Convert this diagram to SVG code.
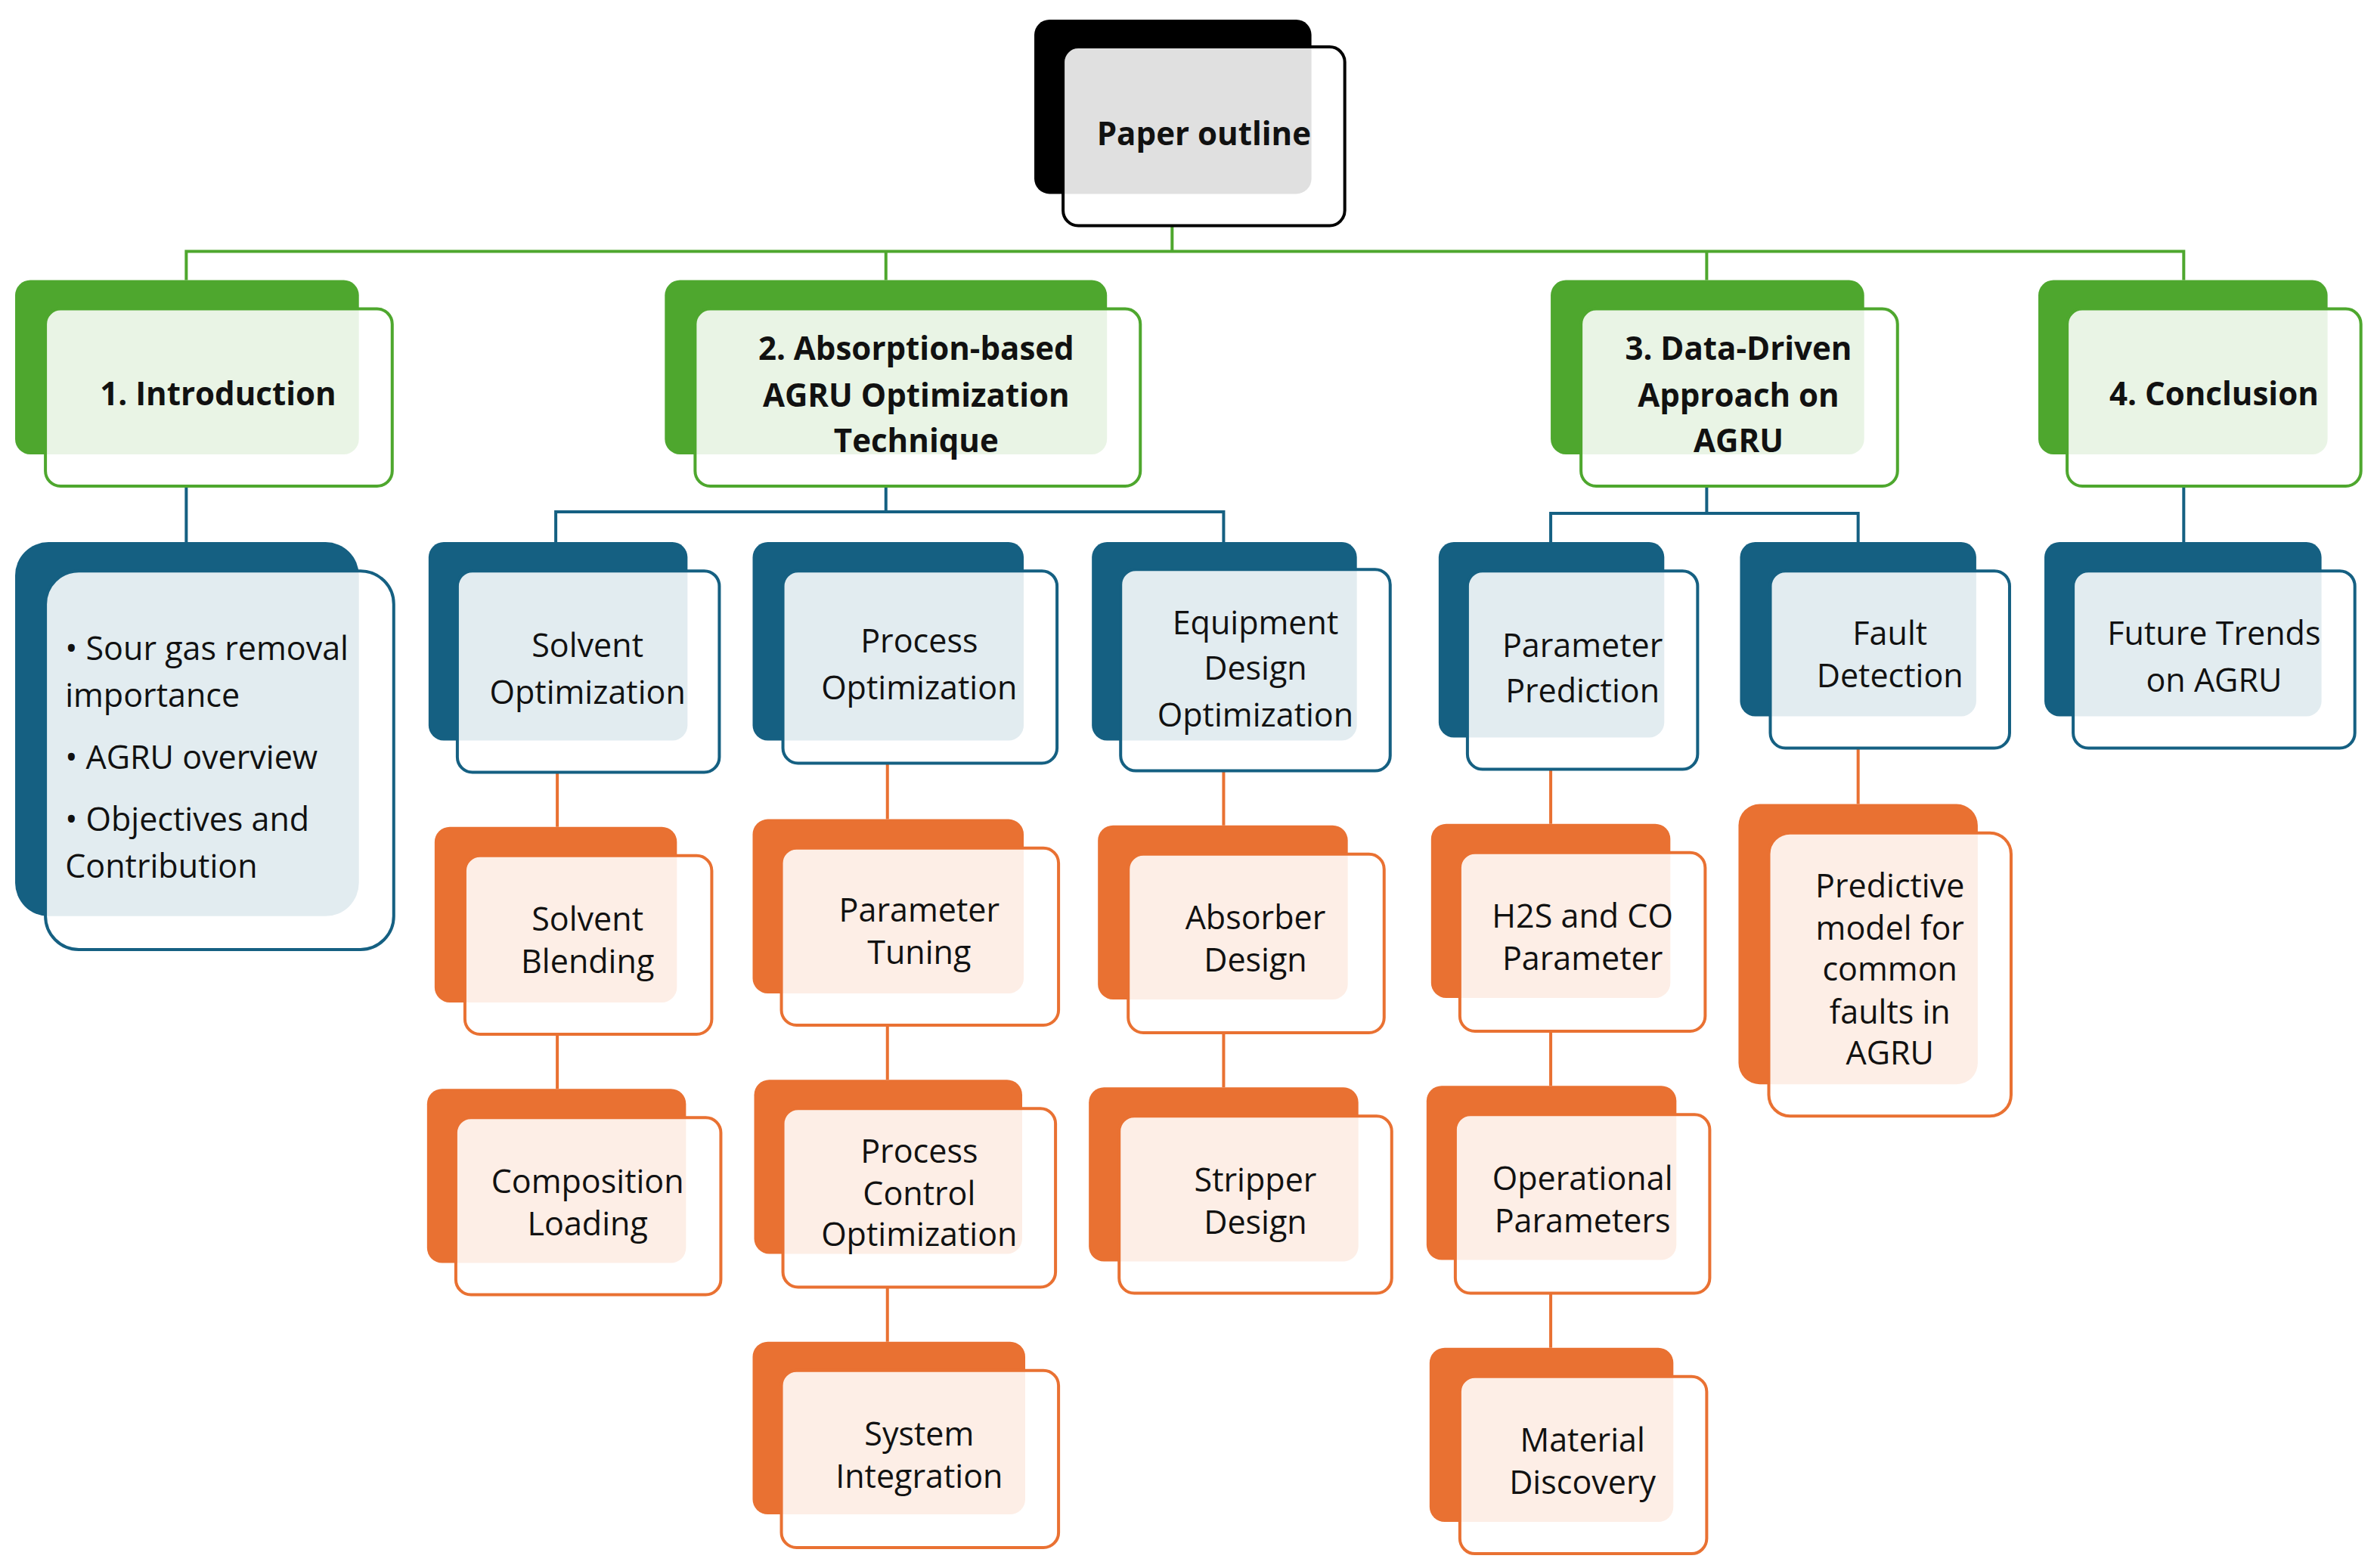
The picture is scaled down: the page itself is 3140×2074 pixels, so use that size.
<svg xmlns="http://www.w3.org/2000/svg" width="3140" height="2074" viewBox="0 0 3140 2074">
<style>
.bk{fill:#000}.bg{fill:#4ea72e}.bb{fill:#156082}.bo{fill:#e97132}
.f{fill:#fff;fill-opacity:0.88;stroke-width:2}
.fk{stroke:#000}.fg{stroke:#4ea72e}.fb{stroke:#156082}.fo{stroke:#e97132}
text{font-family:"Open Sans","Liberation Sans",sans-serif;font-size:21.5px;fill:#111;text-anchor:middle;dominant-baseline:middle}
.h{font-weight:bold;font-size:21px}
.l{text-anchor:start}
.cg{stroke:#4ea72e;stroke-width:2;fill:none}.cb{stroke:#156082;stroke-width:2;fill:none}.co{stroke:#e97132;stroke-width:2;fill:none}
</style>
<rect width="3140" height="2074" fill="#fff"/>
<g transform="scale(2.003)">
<g id="connectors">
<path class="cg" d="M774 149V166M123 185V166H1442V185M585 166V185M1127 166V185"/>
<path class="cb" d="M123 321V358M585 321V338M367 358V338H808V358M1127 321V339M1024 358V339H1227V358M1442 321V358"/>
<path class="co" d="M368 510V546M368 683V719M586 504V541M586 677V713M586 850V886M808 509V545M808 682V718M1024 508V544M1024 681V717M1024 854V890M1227 494V531"/>
</g>
<g id="paper"><rect class="bk" x="683" y="13" width="183" height="115" rx="10"/><rect class="f fk" x="702" y="31" width="186" height="118" rx="10"/><text class="h" x="795" y="90">Paper outline</text></g>
<g id="intro"><rect class="bg" x="10" y="185" width="227" height="115" rx="10"/><rect class="f fg" x="30" y="204" width="229" height="117" rx="10"/><text class="h" x="144" y="262">1. Introduction</text></g>
<g id="sec2"><rect class="bg" x="439" y="185" width="292" height="115" rx="10"/><rect class="f fg" x="459" y="204" width="294" height="117" rx="10"/><text class="h" x="605" y="232">2. Absorption-based</text><text class="h" x="605" y="263">AGRU Optimization</text><text class="h" x="605" y="293">Technique</text></g>
<g id="sec3"><rect class="bg" x="1024" y="185" width="207" height="115" rx="10"/><rect class="f fg" x="1044" y="204" width="209" height="117" rx="10"/><text class="h" x="1148" y="232">3. Data-Driven</text><text class="h" x="1148" y="263">Approach on</text><text class="h" x="1148" y="293">AGRU</text></g>
<g id="concl"><rect class="bg" x="1346" y="185" width="191" height="115" rx="10"/><rect class="f fg" x="1365" y="204" width="194" height="117" rx="10"/><text class="h" x="1462" y="262">4. Conclusion</text></g>
<g id="bullets"><rect class="bb" x="10" y="358" width="227" height="247" rx="22"/><rect class="f fb" x="30" y="377" width="230" height="250" rx="22"/>
<text class="l" x="43" y="430">• Sour gas removal</text><text class="l" x="43" y="461">importance</text><text class="l" x="43" y="502">• AGRU overview</text><text class="l" x="43" y="543">• Objectives and</text><text class="l" x="43" y="574">Contribution</text></g>
<g id="solvopt"><rect class="bb" x="283" y="358" width="171" height="131" rx="10"/><rect class="f fb" x="302" y="377" width="173" height="133" rx="10"/><text x="388" y="428">Solvent</text><text x="388" y="459">Optimization</text></g>
<g id="procopt"><rect class="bb" x="497" y="358" width="179" height="131" rx="10"/><rect class="f fb" x="517" y="377" width="181" height="127" rx="10"/><text x="607" y="425">Process</text><text x="607" y="456">Optimization</text></g>
<g id="equip"><rect class="bb" x="721" y="358" width="175" height="131" rx="10"/><rect class="f fb" x="740" y="376" width="178" height="133" rx="10"/><text x="829" y="413">Equipment</text><text x="829" y="443">Design</text><text x="829" y="474">Optimization</text></g>
<g id="parpred"><rect class="bb" x="950" y="358" width="149" height="129" rx="10"/><rect class="f fb" x="969" y="377" width="152" height="131" rx="10"/><text x="1045" y="428">Parameter</text><text x="1045" y="458">Prediction</text></g>
<g id="fault"><rect class="bb" x="1149" y="358" width="156" height="115" rx="10"/><rect class="f fb" x="1169" y="377" width="158" height="117" rx="10"/><text x="1248" y="420">Fault</text><text x="1248" y="448">Detection</text></g>
<g id="future"><rect class="bb" x="1350" y="358" width="183" height="115" rx="10"/><rect class="f fb" x="1369" y="377" width="186" height="117" rx="10"/><text x="1462" y="420">Future Trends</text><text x="1462" y="451">on AGRU</text></g>
<g id="blend"><rect class="bo" x="287" y="546" width="160" height="116" rx="10"/><rect class="f fo" x="307" y="565" width="163" height="118" rx="10"/><text x="388" y="609">Solvent</text><text x="388" y="637">Blending</text></g>
<g id="comp"><rect class="bo" x="282" y="719" width="171" height="115" rx="10"/><rect class="f fo" x="301" y="738" width="175" height="117" rx="10"/><text x="388" y="782">Composition</text><text x="388" y="810">Loading</text></g>
<g id="tuning"><rect class="bo" x="497" y="541" width="179" height="115" rx="10"/><rect class="f fo" x="516" y="560" width="183" height="117" rx="10"/><text x="607" y="603">Parameter</text><text x="607" y="631">Tuning</text></g>
<g id="pco"><rect class="bo" x="498" y="713" width="177" height="115" rx="10"/><rect class="f fo" x="517" y="732" width="180" height="118" rx="10"/><text x="607" y="762">Process</text><text x="607" y="790">Control</text><text x="607" y="817">Optimization</text></g>
<g id="sysint"><rect class="bo" x="497" y="886" width="180" height="114" rx="10"/><rect class="f fo" x="516" y="905" width="183" height="117" rx="10"/><text x="607" y="949">System</text><text x="607" y="977">Integration</text></g>
<g id="absorber"><rect class="bo" x="725" y="545" width="165" height="115" rx="10"/><rect class="f fo" x="745" y="564" width="169" height="118" rx="10"/><text x="829" y="608">Absorber</text><text x="829" y="636">Design</text></g>
<g id="stripper"><rect class="bo" x="719" y="718" width="178" height="115" rx="10"/><rect class="f fo" x="739" y="737" width="180" height="117" rx="10"/><text x="829" y="781">Stripper</text><text x="829" y="809">Design</text></g>
<g id="h2s"><rect class="bo" x="945" y="544" width="158" height="115" rx="10"/><rect class="f fo" x="964" y="563" width="162" height="118" rx="10"/><text x="1045" y="607">H2S and CO</text><text x="1045" y="635">Parameter</text></g>
<g id="oper"><rect class="bo" x="942" y="717" width="165" height="115" rx="10"/><rect class="f fo" x="961" y="736" width="168" height="118" rx="10"/><text x="1045" y="780">Operational</text><text x="1045" y="808">Parameters</text></g>
<g id="material"><rect class="bo" x="944" y="890" width="161" height="115" rx="10"/><rect class="f fo" x="964" y="909" width="163" height="117" rx="10"/><text x="1045" y="953">Material</text><text x="1045" y="981">Discovery</text></g>
<g id="predictive"><rect class="bo" x="1148" y="531" width="158" height="185" rx="14"/><rect class="f fo" x="1168" y="550" width="160" height="187" rx="14"/><text x="1248" y="587">Predictive</text><text x="1248" y="615">model for</text><text x="1248" y="642">common</text><text x="1248" y="670">faults in</text><text x="1248" y="697">AGRU</text></g>
</g>
</svg>
